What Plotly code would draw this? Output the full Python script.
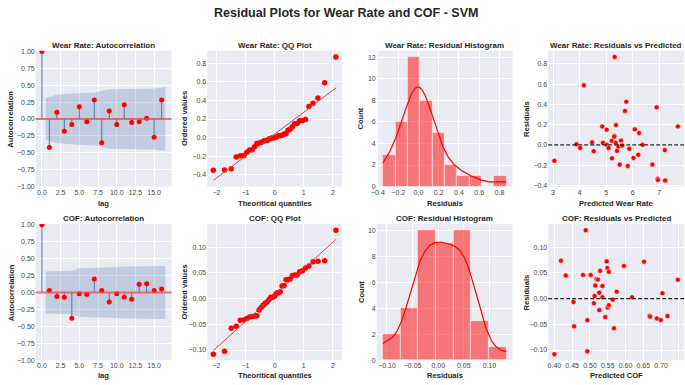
import numpy as np
import plotly.graph_objects as go

W, H = 685, 385
FONT = "Liberation Sans, Arial, DejaVu Sans"

# ---------------- data ----------------
lags = list(range(17))
wear_acf = [1.0, -0.42, 0.10, -0.18, -0.08, 0.18, -0.04, 0.28, -0.35, 0.12,
            -0.08, 0.21, -0.05, -0.04, 0.01, -0.27, 0.28]
wear_conf = [0.31, 0.36, 0.37, 0.38, 0.38, 0.39, 0.39, 0.41, 0.44, 0.44,
             0.44, 0.45, 0.45, 0.45, 0.45, 0.47]
cof_acf = [1.0, 0.03, -0.06, -0.07, -0.38, -0.02, -0.03, 0.20, 0.03, -0.14,
           -0.02, -0.07, -0.10, 0.12, 0.13, 0.03, 0.05]
cof_conf = [0.31, 0.32, 0.32, 0.32, 0.36, 0.36, 0.36, 0.37, 0.37, 0.38,
            0.38, 0.38, 0.38, 0.38, 0.39, 0.39]

wear_pred = [3.05, 3.88, 4.02, 4.16, 4.47, 4.53, 4.85, 4.88, 5.02, 5.02,
             5.09, 5.21, 5.22, 5.31, 5.30, 5.32, 5.36, 5.37, 5.41, 5.46,
             5.51, 5.56, 5.60, 5.71, 5.76, 5.81, 5.87, 6.03, 6.08, 6.21,
             6.24, 6.37, 6.74, 6.90, 6.94, 6.95, 7.21, 7.22, 7.70]
wear_resid = [-0.156, 0.007, -0.030, 0.589, 0.026, -0.062, 0.182, 0.020, 0.150, 0.000,
              -0.030, 0.040, -0.133, 0.090, 0.080, 0.868, 0.020, 0.195, -0.059, -0.016,
              -0.195, 0.042, -0.007, 0.335, 0.426, -0.208, -0.039, -0.130, 0.153, -0.098,
              0.117, 0.000, -0.195, 0.371, -0.335, -0.348, -0.052, -0.351, 0.182]

cof_pred = [0.400, 0.4185, 0.432, 0.4537, 0.4556, 0.4806, 0.488, 0.4926, 0.4926, 0.5019,
            0.511, 0.513, 0.515, 0.5185, 0.5222, 0.5259, 0.526, 0.5287, 0.535, 0.535,
            0.543, 0.547, 0.549, 0.550, 0.553, 0.553, 0.564, 0.5676, 0.575, 0.5954,
            0.6185, 0.652, 0.6676, 0.669, 0.688, 0.699, 0.7037, 0.7176, 0.747]
cof_resid = [-0.108, 0.0737, 0.045, -0.0064, -0.054, 0.046, 0.133, -0.042, -0.1026, 0.046,
             -0.009, 0.005, 0.0256, 0.038, 0.037, 0.0115, -0.0224, 0.054, 0.0026, 0.0244,
             -0.036, 0.0724, 0.0596, -0.0173, -0.0128, 0.052, -0.002, -0.0577, 0.0135, 0.0635,
             0.0026, 0.0718, -0.0333, -0.035, -0.0385, -0.0417, 0.0103, -0.034, 0.0365]

# theoretical normal quantiles (n = 39), positive half
theory_half = [0.064, 0.128, 0.192, 0.258, 0.324, 0.392, 0.462, 0.534, 0.609, 0.687,
               0.770, 0.859, 0.955, 1.061, 1.180, 1.320, 1.490, 1.720, 2.105]
wear_bins = 10
cof_bins = 7

titles = ["Wear Rate: Autocorrelation", "Wear Rate: QQ Plot", "Wear Rate: Residual Histogram",
          "Wear Rate: Residuals vs Predicted",
          "COF: Autocorrelation", "COF: QQ Plot", "COF: Residual Histogram",
          "COF: Residuals vs Predicted"]
xlabels = ["lag", "Theoritical quantiles", "Residuals", "Predicted Wear Rate",
           "lag", "Theoritical quantiles", "Residuals", "Predicted COF"]
ylabels = ["Autocorrelation", "Ordered values", "Count", "Residuals"] * 2

# ---------------- layout geometry (pixels) ----------------
cols = [(30, 167), (203, 339), (374, 511), (547, 684)]
rows = [(48.5, 186.5), (224.5, 363)]
ytitle_x = [5, 180, 358, 525]
xtitle_y = [204, 378]
title_y = [43, 219]

BG = "#EAEAF2"
RED = "red"
C0 = "#4C72B0"
TXT = "#262626"

fig = go.Figure()
layout = {}
annotations = []
shapes = []


def pad(lo, hi, m=0.05):
    s = hi - lo
    return [lo - m * s, hi + m * s]


def axes_ids(k):
    return ("x" if k == 1 else f"x{k}"), ("y" if k == 1 else f"y{k}")


def set_axes(k, xr, xdt, xfmt, yr, ydt, yfmt):
    r, c = divmod(k - 1, 4)
    l, rr = cols[c]
    t, b = rows[r]
    xa, ya = axes_ids(k)
    common = dict(showgrid=True, gridcolor="white", gridwidth=1, zeroline=False,
                  showline=False, ticks="", fixedrange=True, tickangle=0,
                  tickfont=dict(size=7, color="#444", family=FONT))
    layout["xaxis" if k == 1 else f"xaxis{k}"] = dict(
        domain=[l / W, rr / W], range=xr, tick0=0, dtick=xdt, tickformat=xfmt,
        anchor=ya, **common)
    layout["yaxis" if k == 1 else f"yaxis{k}"] = dict(
        domain=[1 - b / H, 1 - t / H], range=yr, tick0=0, dtick=ydt, tickformat=yfmt,
        anchor=xa, **common)
    cx = (l + rr) / 2
    annotations.append(dict(text=f"<b>{titles[k-1]}</b>", x=cx / W, y=1 - title_y[r] / H,
                            xref="paper", yref="paper", showarrow=False, xanchor="center",
                            yanchor="middle", font=dict(size=8, color=TXT, family=FONT)))
    annotations.append(dict(text=f"<b>{xlabels[k-1]}</b>", x=cx / W, y=1 - xtitle_y[r] / H,
                            xref="paper", yref="paper", showarrow=False, xanchor="center",
                            yanchor="middle", font=dict(size=7.6, color=TXT, family=FONT)))
    annotations.append(dict(text=f"<b>{ylabels[k-1]}</b>", x=ytitle_x[c] / W,
                            y=1 - (t + b) / 2 / H, xref="paper", yref="paper",
                            showarrow=False, xanchor="center", yanchor="middle", textangle=-90,
                            font=dict(size=7.6, color=TXT, family=FONT)))
    shapes.append(dict(type="rect", xref=f"{xa} domain", yref=f"{ya} domain", x0=0, x1=1,
                       y0=0, y1=1, fillcolor=BG, line=dict(width=0), layer="below"))
    return xa, ya


def acf_panel(k, acf, conf):
    xa, ya = set_axes(k, [-0.825, 17.325], 2.5, ".1f", [-1.0, 1.01], 0.25, ".2f")
    bx = [float(v) for v in lags[1:]]
    bx[0] -= 0.5
    bx[-1] += 0.5
    fig.add_trace(go.Scatter(x=bx + bx[::-1], y=list(conf) + [-v for v in conf[::-1]],
                             fill="toself", fillcolor="rgba(76,114,176,0.25)",
                             line=dict(width=0), mode="lines", xaxis=xa, yaxis=ya,
                             hoverinfo="skip"))
    sx, sy = [], []
    for lg, v in zip(lags, acf):
        sx += [lg, lg, None]
        sy += [0, v, None]
    fig.add_trace(go.Scatter(x=sx, y=sy, mode="lines", line=dict(color=C0, width=1),
                             xaxis=xa, yaxis=ya))
    shapes.append(dict(type="line", xref=f"{xa} domain", yref=ya, x0=0, x1=1, y0=0, y1=0,
                       line=dict(color="rgba(235,70,70,0.75)", width=2)))
    fig.add_trace(go.Scatter(x=lags, y=acf, mode="markers", cliponaxis=True,
                             marker=dict(color=RED, size=5), xaxis=xa, yaxis=ya))


def qq_panel(k, resid, ydt, yfmt):
    theory = [-v for v in theory_half[::-1]] + [0.0] + theory_half
    ordered = sorted(resid)
    slope, inter = np.polyfit(theory, ordered, 1)
    lx = [theory[0], theory[-1]]
    ly = [inter + slope * v for v in lx]
    lo = min(min(ordered), min(ly))
    hi = max(max(ordered), max(ly))
    xa, ya = set_axes(k, pad(theory[0], theory[-1]), 1, "d", pad(lo, hi), ydt, yfmt)
    fig.add_trace(go.Scatter(x=theory, y=ordered, mode="markers",
                             marker=dict(color=RED, size=5.5), xaxis=xa, yaxis=ya))
    fig.add_trace(go.Scatter(x=lx, y=ly, mode="lines", line=dict(color="#C44E52", width=1),
                             xaxis=xa, yaxis=ya))


def hist_panel(k, resid, nbins, xdt, xfmt):
    d = np.asarray(resid, dtype=float)
    counts, edges = np.histogram(d, bins=nbins)
    centers = (edges[:-1] + edges[1:]) / 2
    bw = edges[1] - edges[0]
    xa, ya = set_axes(k, pad(edges[0], edges[-1]), xdt, xfmt, [0, counts.max() * 1.05], 2, "d")
    fig.add_trace(go.Bar(x=centers, y=counts, width=bw,
                         marker=dict(color="rgba(255,0,0,0.5)",
                                     line=dict(color="rgba(255,255,255,0.8)", width=0.7)),
                         xaxis=xa, yaxis=ya))
    n = len(d)
    h = d.std(ddof=1) * n ** (-1 / 5)
    xs = np.linspace(d.min(), d.max(), 200)
    dens = np.exp(-0.5 * ((xs[:, None] - d[None, :]) / h) ** 2).sum(1) / (n * h * np.sqrt(2 * np.pi))
    fig.add_trace(go.Scatter(x=xs, y=dens * n * bw, mode="lines", line=dict(color=RED, width=1.2),
                             xaxis=xa, yaxis=ya))


def scatter_panel(k, pred, resid, xdt, xfmt, ydt, yfmt):
    xa, ya = set_axes(k, pad(min(pred), max(pred)), xdt, xfmt, pad(min(resid), max(resid)),
                      ydt, yfmt)
    fig.add_trace(go.Scatter(x=pred, y=resid, mode="markers",
                             marker=dict(color=RED, size=5, line=dict(color="white", width=0.5)),
                             xaxis=xa, yaxis=ya))
    shapes.append(dict(type="line", xref=f"{xa} domain", yref=ya, x0=0, x1=1, y0=0, y1=0,
                       line=dict(color="#222", width=1.2, dash="4px,2px")))


acf_panel(1, wear_acf, wear_conf)
qq_panel(2, wear_resid, 0.2, ".1f")
hist_panel(3, wear_resid, wear_bins, 0.2, ".1f")
scatter_panel(4, wear_pred, wear_resid, 1, "d", 0.2, ".1f")
acf_panel(5, cof_acf, cof_conf)
qq_panel(6, cof_resid, 0.05, ".2f")
hist_panel(7, cof_resid, cof_bins, 0.05, ".2f")
scatter_panel(8, cof_pred, cof_resid, 0.05, ".2f", 0.05, ".2f")

annotations.append(dict(text="<b>Residual Plots for Wear Rate and COF - SVM</b>", x=342.5 / W,
                        y=1 - 10 / H, xref="paper", yref="paper", showarrow=False,
                        xanchor="center", yanchor="middle",
                        font=dict(size=12.5, color=TXT, family=FONT)))

fig.update_layout(width=W, height=H, margin=dict(l=0, r=0, t=0, b=0),
                  paper_bgcolor="white", plot_bgcolor="rgba(0,0,0,0)",
                  showlegend=False, annotations=annotations, shapes=shapes,
                  bargap=0, font=dict(family=FONT), **layout)

fig.write_html("out.html", config={"displayModeBar": False},
               post_script="document.body.style.margin='0';document.body.style.overflow='hidden';")
